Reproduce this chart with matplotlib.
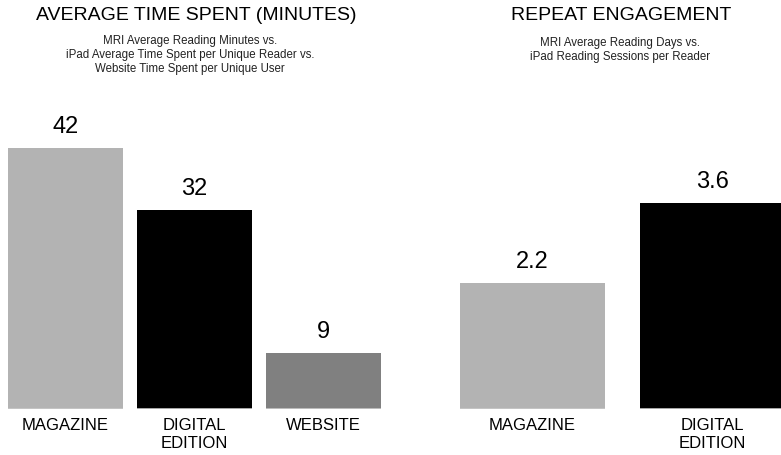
import matplotlib
matplotlib.use('Agg')
import matplotlib.pyplot as plt

plt.rcParams['font.family'] = ['Liberation Sans', 'DejaVu Sans']

# left panel: average time spent (minutes)
time_cats = ['MAGAZINE', 'DIGITAL\nEDITION', 'WEBSITE']
time_vals = [42, 32, 9]
time_labels = ['42', '32', '9']
time_colors = ['#b3b3b3', '#000000', '#808080']

# right panel: repeat engagement
rep_cats = ['MAGAZINE', 'DIGITAL\nEDITION']
rep_vals = [2.2, 3.6]
rep_labels = ['2.2', '3.6']
rep_colors = ['#b3b3b3', '#000000']

W, H = 781, 455
fig = plt.figure(figsize=(W / 100, H / 100), dpi=100)

base_px = 46      # baseline height from bottom
top_px = 355      # axes top from bottom


def panel(x0, x1, cats, vals, labels, colors, xlim, ylim_top, width):
    ax = fig.add_axes([x0 / W, base_px / H, (x1 - x0) / W, (top_px - base_px) / H])
    xs = list(range(len(vals)))
    ax.bar(xs, vals, width=width, color=colors, linewidth=0)
    ax.hlines([0] * len(xs), [x - width / 2 for x in xs], [x + width / 2 for x in xs],
              color='#c8c8c8', lw=1.2)
    for x, v, s in zip(xs, vals, labels):
        ax.annotate(s, (x, v), xytext=(0, 10.5), textcoords='offset points',
                    ha='center', va='baseline', fontsize=17)
    ax.set_xlim(*xlim)
    ax.set_ylim(0, ylim_top)
    ax.set_xticks(xs)
    ax.set_xticklabels(cats, fontsize=12, linespacing=1.22)
    ax.tick_params(axis='x', length=0, pad=6.5)
    ax.set_yticks([])
    for sp in ax.spines.values():
        sp.set_visible(False)
    ax.patch.set_alpha(0)
    return ax


panel(0, 390, time_cats, time_vals, time_labels, time_colors,
      (-0.508, 2.515), 309 / 6.22, 0.891)
panel(390, 781, rep_cats, rep_vals, rep_labels, rep_colors,
      (-0.794, 1.384), 309 / 57.3, 0.808)

# titles
fig.text(196 / W, 1 - 7 / H, 'AVERAGE TIME SPENT (MINUTES)', ha='center', va='top', fontsize=14)
fig.text(190 / W, 1 - 35 / H,
         'MRI Average Reading Minutes vs.\niPad Average Time Spent per Unique Reader vs.\nWebsite Time Spent per Unique User',
         ha='center', va='top', fontsize=8.3, linespacing=1.22, color='#222222')
fig.text(621 / W, 1 - 7 / H, 'REPEAT ENGAGEMENT', ha='center', va='top', fontsize=14)
fig.text(620 / W, 1 - 37 / H,
         'MRI Average Reading Days vs.\niPad Reading Sessions per Reader',
         ha='center', va='top', fontsize=8.3, linespacing=1.22, color='#222222')

fig.savefig('out.png', dpi=100, facecolor='white')
